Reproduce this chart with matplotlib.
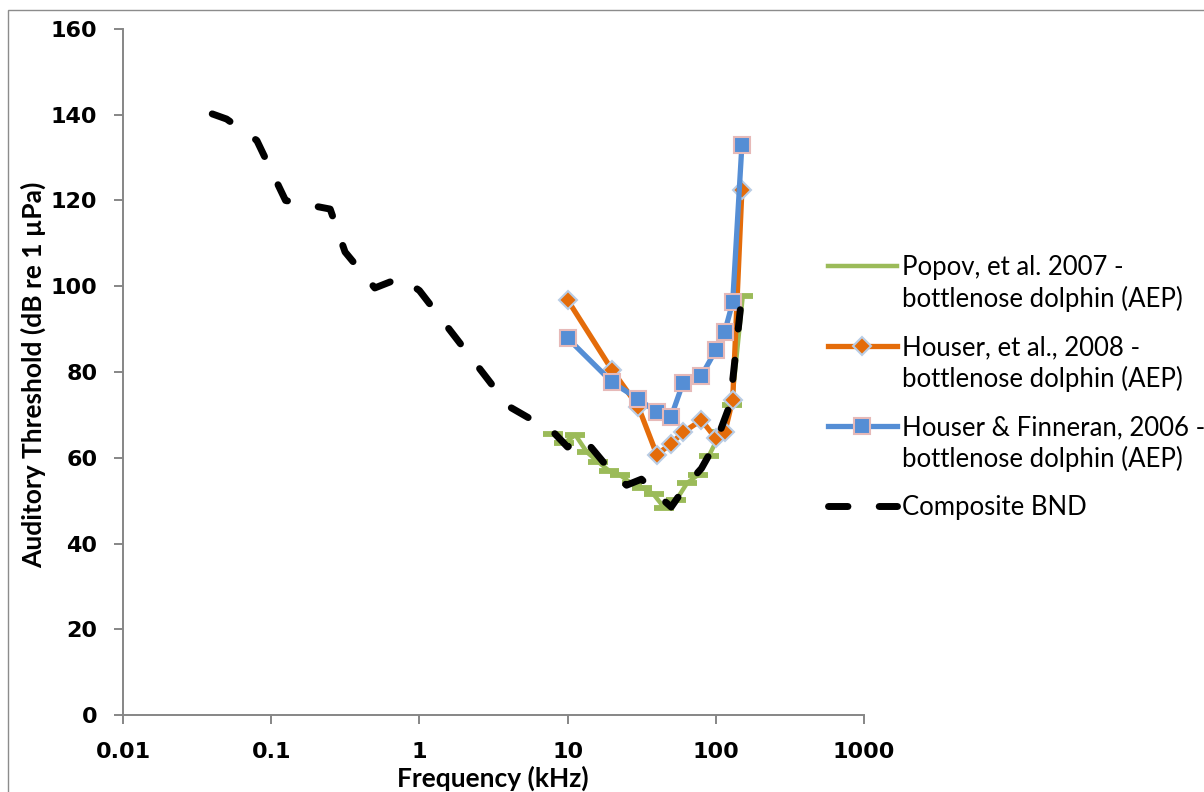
import matplotlib

matplotlib.use("Agg")

import matplotlib.pyplot as plt
from matplotlib.lines import Line2D
from matplotlib.patches import Rectangle


OUTPUT_FILE = "out.png"

# Popov, et al. 2007 (green, dash markers)
POPOV_FREQ = [8, 9.5, 11.3, 13.5, 16, 19, 22.5, 27, 32, 38, 45, 54, 64, 76, 90, 108, 128, 152]
POPOV_DB = [65.5, 63.5, 65.3, 61.3, 59.1, 57.0, 56.0, 54.0, 53.0, 51.5, 48.3, 50.1, 54.1, 56.0,
            60.5, 66.0, 72.4, 97.7]

# Houser, et al. 2008 (orange diamonds)
HOUSER08_FREQ = [10, 20, 30, 40, 50, 60, 80, 100, 115, 130, 150]
HOUSER08_DB = [96.8, 80.4, 71.9, 60.7, 63.3, 65.9, 68.8, 64.5, 65.9, 73.5, 122.4]

# Houser & Finneran 2006 (blue squares)
HF06_FREQ = [10, 20, 30, 40, 50, 60, 80, 100, 115, 130, 150]
HF06_DB = [87.9, 77.6, 73.7, 70.6, 69.6, 77.4, 79.1, 85.1, 89.4, 96.3, 132.9]

# Composite BND (black dashed)
COMPOSITE_FREQ = [0.04, 0.05, 0.08, 0.125, 0.25, 0.315, 0.5, 0.75, 1, 4, 8, 10, 12.5, 20, 25,
                  31.5, 40, 50, 63, 80, 100, 125, 150]
COMPOSITE_DB = [140.2, 139.0, 134.0, 120.0, 118.0, 108.0, 99.6, 102.0, 99.0, 72.0, 66.0, 62.5,
                65.0, 56.5, 53.6, 55.0, 51.5, 48.5, 53.5, 57.5, 63.5, 72.5, 98.0]

X_TICKS = [0.01, 0.1, 1, 10, 100, 1000]
X_TICK_LABELS = ["0.01", "0.1", "1", "10", "100", "1000"]
Y_TICKS = [0, 20, 40, 60, 80, 100, 120, 140, 160]

LEGEND_LABELS = [
    ["Popov, et al. 2007 -", "bottlenose dolphin (AEP)"],
    ["Houser, et al., 2008 -", "bottlenose dolphin (AEP)"],
    ["Houser & Finneran, 2006 -", "bottlenose dolphin (AEP)"],
    ["Composite BND"],
]

GREEN = "#9BBB59"
ORANGE = "#E46C0A"
BLUE = "#558ED5"
DIAMOND_EDGE = "#B9CDE5"
SQUARE_EDGE = "#E6B9B8"
AXIS_GRAY = "#868686"

WIDTH_PX = 1204
HEIGHT_PX = 792

LABEL_FONT = ["Lato", "DejaVu Sans"]


def fx(px):
    return px / WIDTH_PX


def fy(py):
    return 1 - py / HEIGHT_PX


def main() -> None:
    figure = plt.figure(figsize=(WIDTH_PX / 100, HEIGHT_PX / 100), dpi=100)
    axis = figure.add_axes([fx(123), fy(715), fx(864) - fx(123), fy(29) - fy(715)])

    popov_style = dict(color=GREEN, linewidth=3.2, marker="_", markersize=14.5,
                       markeredgewidth=4.2, markeredgecolor=GREEN)
    houser_style = dict(color=ORANGE, linewidth=3.8, marker="D", markersize=9.5,
                        markerfacecolor=ORANGE, markeredgecolor=DIAMOND_EDGE,
                        markeredgewidth=1.5)
    hf_style = dict(color=BLUE, linewidth=3.8, marker="s", markersize=11.5,
                    markerfacecolor=BLUE, markeredgecolor=SQUARE_EDGE,
                    markeredgewidth=1.5)
    composite_style = dict(color="black", linewidth=5.0, linestyle=(0, (2.8, 4.5)),
                           dash_capstyle="round", solid_capstyle="round")

    axis.plot(POPOV_FREQ, POPOV_DB, zorder=2, **popov_style)
    axis.plot(HOUSER08_FREQ, HOUSER08_DB, zorder=3, **houser_style)
    axis.plot(HF06_FREQ, HF06_DB, zorder=4, **hf_style)
    axis.plot(COMPOSITE_FREQ, COMPOSITE_DB, zorder=5, **composite_style)

    axis.set_xscale("log")
    axis.set_xlim(0.01, 1000)
    axis.set_ylim(0, 160)
    axis.set_xticks(X_TICKS)
    axis.set_xticklabels(X_TICK_LABELS)
    axis.xaxis.set_minor_locator(matplotlib.ticker.NullLocator())
    axis.set_yticks(Y_TICKS)

    for side in ["top", "right"]:
        axis.spines[side].set_visible(False)
    for side in ["left", "bottom"]:
        axis.spines[side].set_color(AXIS_GRAY)
        axis.spines[side].set_linewidth(1.4)

    axis.tick_params(axis="both", direction="out", length=6.5, width=1.4,
                     color=AXIS_GRAY, labelsize=16)
    axis.tick_params(axis="y", pad=12)
    axis.tick_params(axis="x", pad=13)
    for label in axis.get_xticklabels() + axis.get_yticklabels():
        label.set_fontweight("bold")

    figure.text(fx(33), fy(375), "Auditory Threshold (dB re 1 \u00b5Pa)", rotation=90,
                ha="center", va="center", fontsize=19, fontweight="bold",
                family=LABEL_FONT)
    figure.text(fx(493), fy(778), "Frequency (kHz)", ha="center", va="center",
                fontsize=19, fontweight="bold", family=LABEL_FONT)

    # legend drawn by hand so that each handle sits on the first text line
    handle_styles = [popov_style, houser_style, hf_style, composite_style]
    first_baselines = [275, 355, 435, 515]
    for style, lines, baseline in zip(handle_styles, LEGEND_LABELS, first_baselines):
        handle_y = baseline - 9
        line_style = {k: v for k, v in style.items() if k != "marker"}
        handle = Line2D([fx(828), fx(897)], [fy(handle_y), fy(handle_y)],
                        transform=figure.transFigure, **line_style)
        handle.set_marker("None")
        figure.add_artist(handle)
        if style.get("marker") in ("D", "s"):
            marker = Line2D([fx(862)], [fy(handle_y)], transform=figure.transFigure,
                            linestyle="None", **{k: v for k, v in style.items()
                                                  if k.startswith("marker")})
            figure.add_artist(marker)
        for line_index, text in enumerate(lines):
            figure.text(fx(902), fy(baseline + 32 * line_index), text, ha="left",
                        va="baseline", fontsize=18.5, family=LABEL_FONT)

    frame = Rectangle((fx(8), -0.1), 1.2, fy(10) + 0.1, transform=figure.transFigure,
                      fill=False, edgecolor="#8C8C8C", linewidth=1.0)
    figure.patches.append(frame)

    figure.savefig(OUTPUT_FILE, dpi=100)
    plt.close(figure)


if __name__ == "__main__":
    main()
